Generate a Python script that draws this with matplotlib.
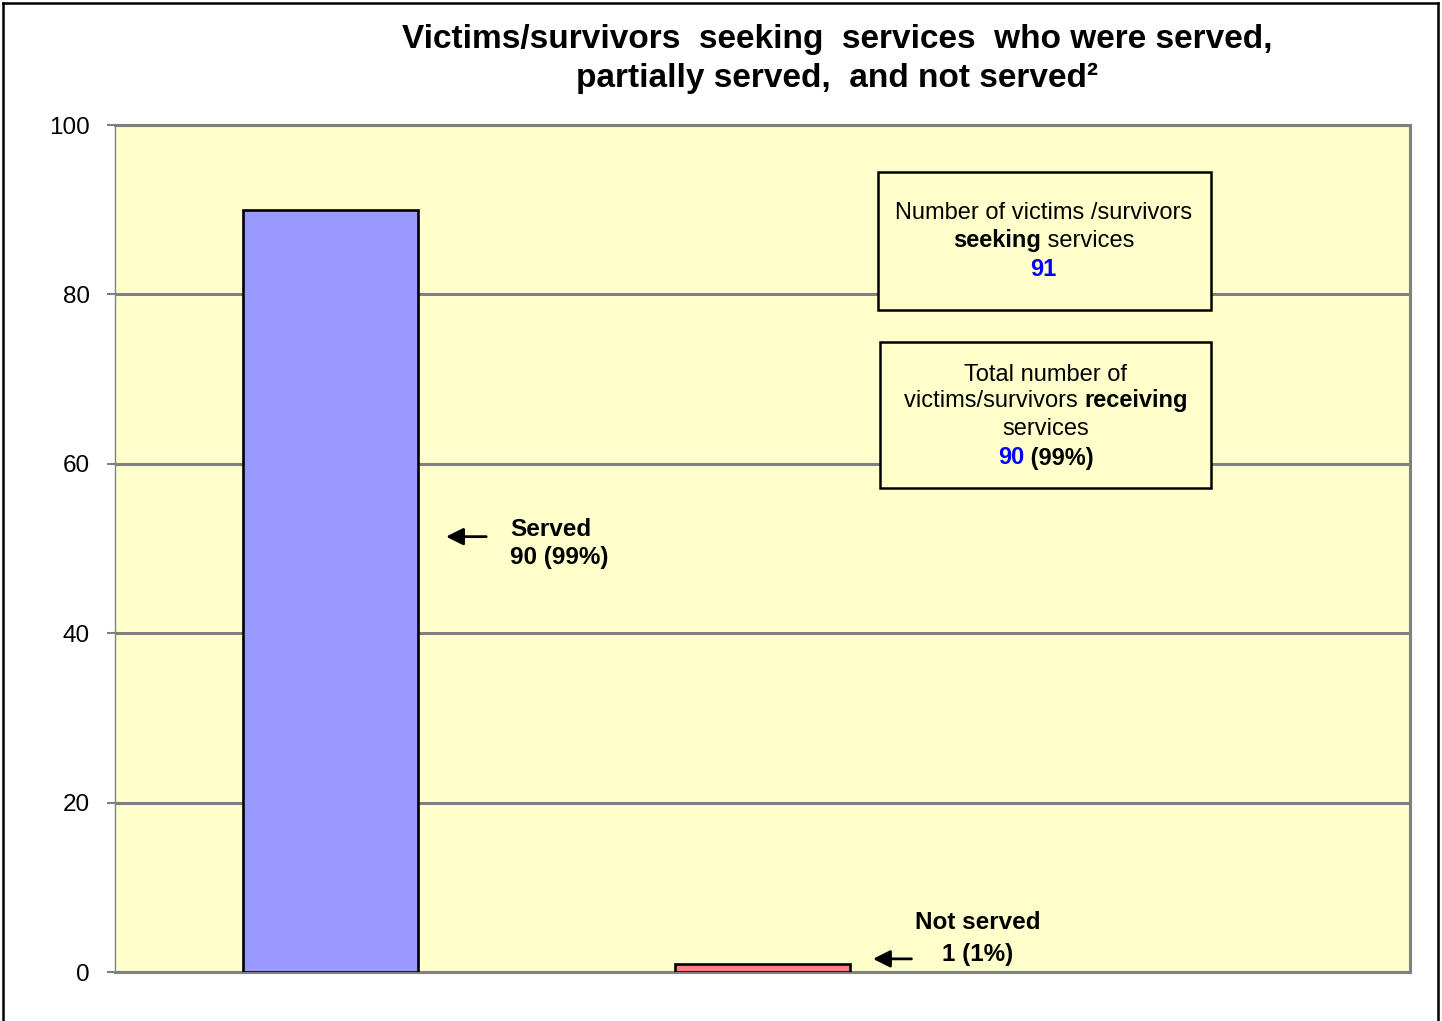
import matplotlib
matplotlib.use("Agg")
import matplotlib.pyplot as plt
from matplotlib.patches import Rectangle
from matplotlib.lines import Line2D

plt.rcParams['font.family'] = ['Liberation Sans', 'DejaVu Sans']

# ---- data ----
categories = ['Served', 'Not served']
values = [90, 1]
percents = [99, 1]
bar_colors = ['#9999FF', '#FF8080']
total_seeking = 91
total_receiving = 90
receiving_pct = 99
y_ticks = [0, 20, 40, 60, 80, 100]
title = "Victims/survivors  seeking  services  who were served,\npartially served,  and not served²"

W, H = 1442, 1021
fig = plt.figure(figsize=(W / 100, H / 100), dpi=100)
ax = fig.add_axes([115 / W, 1 - 972 / H, 1295 / W, 847 / H])
ax.set_facecolor('#FFFFCC')

xpos = list(range(len(categories)))
ax.bar(xpos, values, width=0.405, color=bar_colors, edgecolor='black', linewidth=1.9, zorder=3)
ax.set_xlim(-0.5, 2.5)
ax.set_ylim(0, 100)
ax.set_yticks(y_ticks)
ax.set_yticklabels([str(v) for v in y_ticks], fontsize=17.5)
ax.set_xticks([])
ax.tick_params(axis='y', direction='out', length=6, width=1.5, color='#808080', pad=12)
ax.yaxis.grid(True, color='#808080', linewidth=2.2, zorder=1)
ax.set_axisbelow(True)
for side in ['top', 'right', 'bottom']:
    ax.spines[side].set_color('#808080')
    ax.spines[side].set_linewidth(2.2)
ax.spines['left'].set_color('#808080')
ax.spines['left'].set_linewidth(1.0)

# title
fig.text(837 / W, 1 - 59 / H, title, ha='center', va='center', fontsize=24,
         fontweight='bold', linespacing=1.3)

# outer border
for xs, ys in [([3 / W, 3 / W], [0, 1 - 3 / H]), ([1438 / W, 1438 / W], [0, 1 - 3 / H]),
               ([3 / W, 1438 / W], [1 - 3 / H, 1 - 3 / H])]:
    fig.add_artist(Line2D(xs, ys, color='black', linewidth=1.8, transform=fig.transFigure))

# annotations for bars
half = 0.405 / 2
ax.annotate('', xy=(xpos[0] + half + 0.058, 51.4), xytext=(xpos[0] + half + 0.164, 51.4),
            arrowprops=dict(arrowstyle='-|>', color='black', lw=2.0, mutation_scale=26), zorder=5)
ax.text(0.415, 50.6, f"{categories[0]}\n{values[0]} ({percents[0]}%)", ha='left', va='center',
        fontsize=17.5, fontweight='bold', linespacing=1.3, zorder=5)
ax.annotate('', xy=(xpos[1] + half + 0.047, 1.55), xytext=(xpos[1] + half + 0.149, 1.55),
            arrowprops=dict(arrowstyle='-|>', color='black', lw=2.0, mutation_scale=26), zorder=5)
ax.text(1.499, 3.9, f"{categories[1]}\n{values[1]} ({percents[1]}%)", ha='center', va='center',
        fontsize=17.5, fontweight='bold', linespacing=1.5, zorder=5)

# boxes
def ax_y(py):
    return (972 - py) / 847

def ax_x(px):
    return (px - 115) / 1295

for (x0, x1, y0, y1) in [(878, 1211, 172, 310), (880, 1211, 342, 488)]:
    ax.add_patch(Rectangle((ax_x(x0), ax_y(y1)), ax_x(x1) - ax_x(x0), ax_y(y0) - ax_y(y1),
                           transform=ax.transAxes, facecolor='#FFFFCC', edgecolor='black',
                           linewidth=1.8, zorder=4))

BLUE = '#0000FF'
lines = [
    (213, [("Number of victims /survivors", {})]),
    (241, [("seeking", {'fontweight': 'bold'}), (" services", {})]),
    (270, [(str(total_seeking), {'fontweight': 'bold', 'color': BLUE})]),
    (375, [("Total number of", {})]),
    (401, [("victims/survivors ", {}), ("receiving", {'fontweight': 'bold'})]),
    (429, [("services", {})]),
    (458, [(str(total_receiving), {'fontweight': 'bold', 'color': BLUE}),
           (f" ({receiving_pct}%)", {'fontweight': 'bold'})]),
]
centers = {213: 1044, 241: 1044, 270: 1043, 375: 1046, 401: 1046, 429: 1046, 458: 1046}

placed = []
for py, pieces in lines:
    texts = []
    for s, kw in pieces:
        t = ax.text(0, ax_y(py), s, transform=ax.transAxes, ha='left', va='center',
                    fontsize=17, zorder=6, **kw)
        texts.append(t)
    placed.append((py, texts))

fig.canvas.draw()
r = fig.canvas.get_renderer()
axw = ax.get_window_extent(r).width
for py, texts in placed:
    widths = [t.get_window_extent(r).width for t in texts]
    total = sum(widths)
    x = ax_x(centers[py]) - total / axw / 2
    for t, w in zip(texts, widths):
        t.set_x(x)
        x += w / axw

fig.savefig('out.png', dpi=100)
